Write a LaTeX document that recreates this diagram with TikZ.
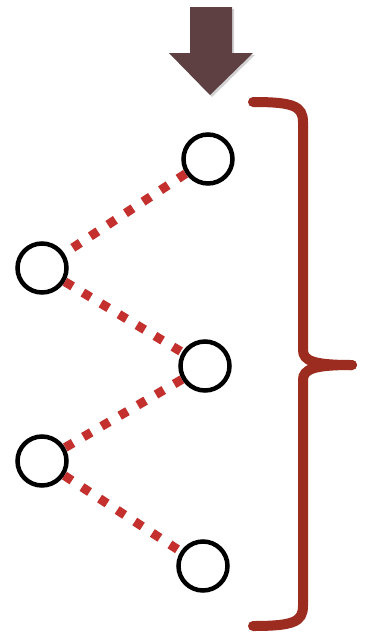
\documentclass[tikz,border=0pt]{standalone}
\usetikzlibrary{shadows}
\definecolor{arrowcol}{HTML}{5E4043}
\definecolor{dotred}{HTML}{C3302D}
\definecolor{bracecol}{HTML}{9C2C20}
\tikzset{
  ring/.style={circle,draw=black,line width=4.5pt,minimum size=49pt,inner sep=0pt},
  link/.style={draw=dotred,line width=9pt,dash pattern=on 9pt off 12pt},
  bracepath/.style={draw=bracecol,line width=10pt,line cap=round}
}
\begin{document}
\begin{tikzpicture}[x=1pt,y=-1pt]
\useasboundingbox[fill=white] (0,0) rectangle (365,633);
% arrow
\fill[arrowcol,drop shadow={opacity=0.35,shadow xshift=2pt,shadow yshift=-2pt}]
  (190,7) -- (232,7) -- (232,53) -- (253,53) -- (210,95) -- (169,53) -- (190,53) -- cycle;
% circles
\node[ring] (r1) at (208,159) {};
\node[ring] (l1) at (42,268) {};
\node[ring] (r2) at (205,366) {};
\node[ring] (l2) at (42,461) {};
\node[ring] (r3) at (203,566) {};
% links
\path[link] (r1) -- (l1);
\path[link] (l1) -- (r2);
\path[link] (r2) -- (l2);
\path[link] (l2) -- (r3);
% brace
\path[bracepath] (253,102) .. controls (293,102) and (303,106) .. (303,122) -- (303,350)
  .. controls (303,361) and (314,365) .. (352,365);
\path[bracepath] (253,626) .. controls (293,626) and (303,622) .. (303,606) -- (303,380)
  .. controls (303,369) and (314,365) .. (352,365);
\end{tikzpicture}
\end{document}
